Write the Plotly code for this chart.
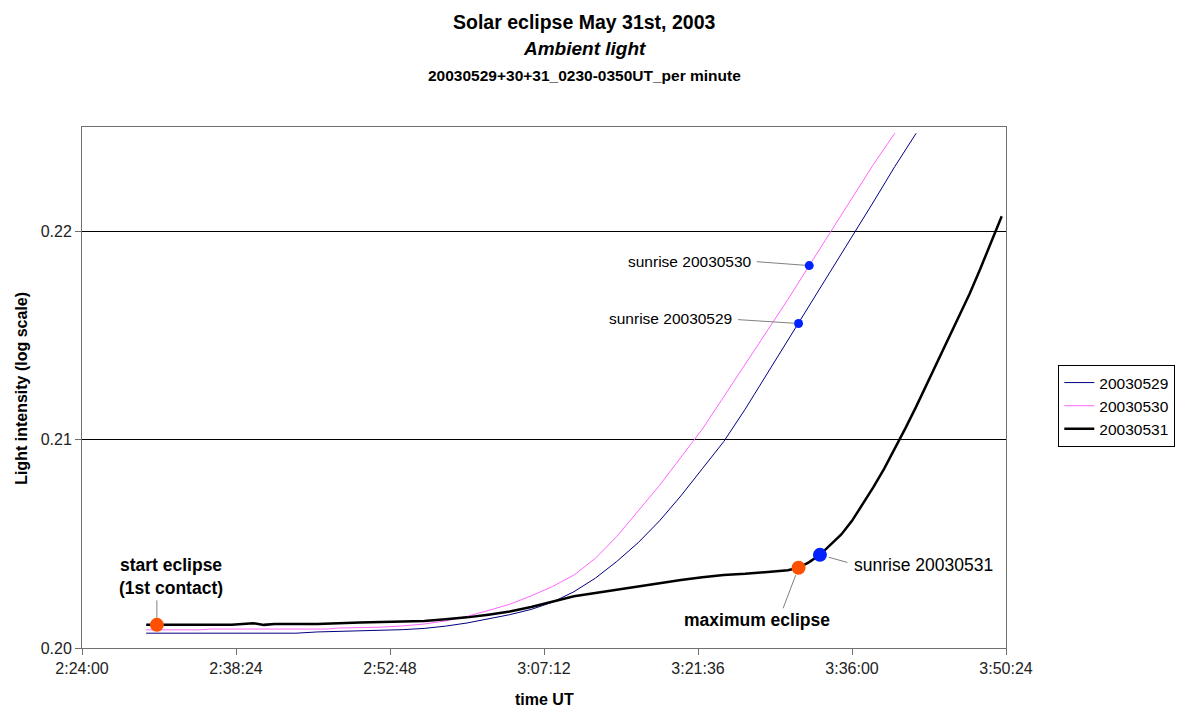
import plotly.graph_objects as go

# ---------------- data ----------------
t_0529 = ["2:30", "2:44", "2:46", "2:50", "2:54", "2:56", "2:58", "3:00", "3:02", "3:04",
          "3:06", "3:08", "3:10", "3:12", "3:14", "3:16", "3:18", "3:20", "3:22", "3:24",
          "3:26", "3:28", "3:30", "3:31", "3:32", "3:34", "3:36", "3:38", "3:40", "3:42"]
v_0529 = [0.20071, 0.20071, 0.20077, 0.20082, 0.20088, 0.20094, 0.20105, 0.20120, 0.20140, 0.20160,
          0.20185, 0.20220, 0.20270, 0.20335, 0.20415, 0.20505, 0.20610, 0.20730, 0.20860, 0.20990,
          0.21145, 0.21310, 0.21475, 0.21557, 0.21640, 0.21805, 0.21970, 0.22140, 0.22310, 0.22470]

t_0530 = ["2:30", "2:35", "2:36", "2:47", "2:48", "2:52", "2:54", "2:56", "2:58", "3:00",
          "3:02", "3:04", "3:06", "3:08", "3:10", "3:12", "3:14", "3:16", "3:18", "3:20",
          "3:22", "3:24", "3:26", "3:28", "3:30", "3:32", "3:34", "3:36", "3:38", "3:40"]
v_0530 = [0.20087, 0.20087, 0.20091, 0.20091, 0.20096, 0.20100, 0.20106, 0.20115, 0.20130, 0.20152,
          0.20180, 0.20210, 0.20250, 0.20295, 0.20350, 0.20430, 0.20535, 0.20655, 0.20780, 0.20915,
          0.21050, 0.21205, 0.21360, 0.21515, 0.21672, 0.21835, 0.21995, 0.22155, 0.22320, 0.22470]

t_0531 = ["2:30", "2:31", "2:34", "2:38", "2:40", "2:41", "2:42", "2:46", "2:50", "2:54",
          "2:56", "2:58", "3:00", "3:02", "3:04", "3:06", "3:08", "3:10", "3:12", "3:14",
          "3:16", "3:18", "3:20", "3:22", "3:24", "3:26", "3:28", "3:30", "3:31", "3:32",
          "3:33", "3:34", "3:35", "3:36", "3:37", "3:38", "3:39", "3:40", "3:41", "3:42",
          "3:43", "3:44", "3:45", "3:46", "3:47", "3:48", "3:49", "3:50"]
v_0531 = [0.20111, 0.20111, 0.20111, 0.20111, 0.20119, 0.20111, 0.20115, 0.20115, 0.20122, 0.20126,
          0.20130, 0.20138, 0.20147, 0.20160, 0.20175, 0.20197, 0.20222, 0.20248, 0.20264, 0.20280,
          0.20296, 0.20311, 0.20326, 0.20340, 0.20350, 0.20356, 0.20363, 0.20373, 0.20385, 0.20412,
          0.20447, 0.20495, 0.20545, 0.20610, 0.20688, 0.20772, 0.20860, 0.20955, 0.21055, 0.21158,
          0.21265, 0.21373, 0.21482, 0.21590, 0.21700, 0.21820, 0.21945, 0.22072]

series_names = ["20030529", "20030530", "20030531"]

# events: (label, series, time)
orange_events = [("start eclipse<br>(1st contact)", "20030531", "2:31"),
                 ("maximum eclipse", "20030531", "3:31")]
sunrise_events = [("sunrise 20030529", "20030529", "3:31"),
                  ("sunrise 20030530", "20030530", "3:32"),
                  ("sunrise 20030531", "20030531", "3:33")]

x_tick_labels = ["2:24:00", "2:38:24", "2:52:48", "3:07:12", "3:21:36", "3:36:00", "3:50:24"]
y_tick_vals = [0.20, 0.21, 0.22]
y_tick_labels = ["0.20", "0.21", "0.22"]
y_range = [0.20, 0.225]


# ---------------- helpers ----------------
def to_sec(s):
    parts = [int(p) for p in s.split(":")]
    while len(parts) < 3:
        parts.append(0)
    return parts[0] * 3600 + parts[1] * 60 + parts[2]


data = {
    "20030529": (t_0529, v_0529),
    "20030530": (t_0530, v_0530),
    "20030531": (t_0531, v_0531),
}


def lookup(series, t):
    ts, vs = data[series]
    return to_sec(t), vs[ts.index(t)]


FONT = "Arial, Liberation Sans, sans-serif"
styles = {
    "20030529": dict(color="#000080", width=1),
    "20030530": dict(color="#FF66FF", width=1),
    "20030531": dict(color="#000000", width=2.5),
}

fig = go.Figure()
for i, name in enumerate(series_names):
    ts, vs = data[name]
    fig.add_trace(go.Scatter(
        x=[to_sec(t) for t in ts], y=vs, mode="lines", name=name,
        line=styles[name], legendgroup=name,
    ))

# sunrise markers
for label, ser, t in sunrise_events:
    x, y = lookup(ser, t)
    size = 14 if ser == "20030531" else 9
    fig.add_trace(go.Scatter(x=[x], y=[y], mode="markers", showlegend=False,
                             marker=dict(color="#0022FF", size=size), hoverinfo="skip"))
for label, ser, t in orange_events:
    x, y = lookup(ser, t)
    fig.add_trace(go.Scatter(x=[x], y=[y], mode="markers", showlegend=False,
                             marker=dict(color="#FF5000", size=14), hoverinfo="skip"))

annotations = []
# text placement (pixel offsets from the data point) and leader lines
label_layout = {
    "start eclipse<br>(1st contact)": dict(xshift=14, yshift=48, xanchor="center", bold=True, size=17.5,
                                           lead=(0, -26, 7)),
    "maximum eclipse": dict(xshift=-42, yshift=-52, xanchor="center", bold=True, size=17.5,
                            lead=(-16, 42, 8)),
    "sunrise 20030529": dict(xshift=-65, yshift=5, xanchor="right", bold=False, size=15.5,
                             lead=(-62, -4, 4)),
    "sunrise 20030530": dict(xshift=-55, yshift=4, xanchor="right", bold=False, size=15.5,
                             lead=(-54, -4, 4)),
    "sunrise 20030531": dict(xshift=32, yshift=-10, xanchor="left", bold=False, size=17.5,
                             lead=(29, 8, 9)),
}
for label, ser, t in orange_events + sunrise_events:
    x, y = lookup(ser, t)
    st = label_layout[label]
    txt = "<b>%s</b>" % label if st["bold"] else label
    annotations.append(dict(x=x, y=y, xref="x", yref="y", text=txt, showarrow=False,
                            xshift=st["xshift"], yshift=st["yshift"], xanchor=st["xanchor"],
                            yanchor="middle", align="center",
                            font=dict(family=FONT, size=st["size"], color="#000000")))
    ax, ay, so = st["lead"]
    annotations.append(dict(x=x, y=y, xref="x", yref="y", text="", showarrow=True,
                            ax=ax, ay=ay, arrowhead=0, arrowwidth=1, arrowcolor="#808080",
                            standoff=so))

# titles
annotations += [
    dict(x=0.5438, y=1.2015, xref="paper", yref="paper", showarrow=False,
         xanchor="center", yanchor="middle",
         text="<b>Solar eclipse May 31st, 2003</b>", font=dict(family=FONT, size=19.5, color="#000")),
    dict(x=0.5438, y=1.1516, xref="paper", yref="paper", showarrow=False,
         xanchor="center", yanchor="middle",
         text="<b><i>Ambient light</i></b>", font=dict(family=FONT, size=19, color="#000")),
    dict(x=0.5438, y=1.0998, xref="paper", yref="paper", showarrow=False,
         xanchor="center", yanchor="middle",
         text="<b>20030529+30+31_0230-0350UT_per minute</b>", font=dict(family=FONT, size=15.5, color="#000")),
    dict(x=0.5, y=-0.0985, xref="paper", yref="paper", showarrow=False,
         xanchor="center", yanchor="middle",
         text="<b>time UT</b>", font=dict(family=FONT, size=16, color="#000")),
    dict(x=-0.0662, y=0.499, xref="paper", yref="paper", showarrow=False, textangle=-90,
         xanchor="center", yanchor="middle",
         text="<b>Light intensity (log scale)</b>", font=dict(family=FONT, size=16, color="#000")),
]

fig.update_layout(
    width=1187, height=709,
    margin=dict(l=82, r=169, t=127, b=61),
    paper_bgcolor="white", plot_bgcolor="white",
    font=dict(family=FONT, size=16, color="#000"),
    showlegend=True,
    legend=dict(x=1.0566, y=0.5432, xanchor="left", yanchor="top",
                bordercolor="#000", borderwidth=1, bgcolor="white",
                font=dict(family=FONT, size=15.5), tracegroupgap=0),
    annotations=annotations,
)
fig.update_xaxes(range=[to_sec(x_tick_labels[0]), to_sec(x_tick_labels[-1])],
                 tickvals=[to_sec(t) for t in x_tick_labels], ticktext=x_tick_labels,
                 showgrid=False, zeroline=False, showline=True, linecolor="#707070", linewidth=1,
                 mirror=True, ticks="outside", ticklen=6, tickcolor="#707070",
                 tickfont=dict(family=FONT, size=16, color="#222"))
fig.update_yaxes(range=y_range, tickvals=y_tick_vals, ticktext=y_tick_labels,
                 showgrid=True, gridcolor="#000", gridwidth=1, zeroline=False,
                 showline=True, linecolor="#707070", linewidth=1, mirror=True,
                 ticks="outside", ticklen=6, tickcolor="#707070",
                 tickfont=dict(family=FONT, size=16, color="#222"))

# remove the default page margin so the figure sits at the window's top-left corner
fig.write_html("out.html", config={"displayModeBar": False},
               post_script="document.body.style.margin='0';document.body.style.overflow='hidden';")
